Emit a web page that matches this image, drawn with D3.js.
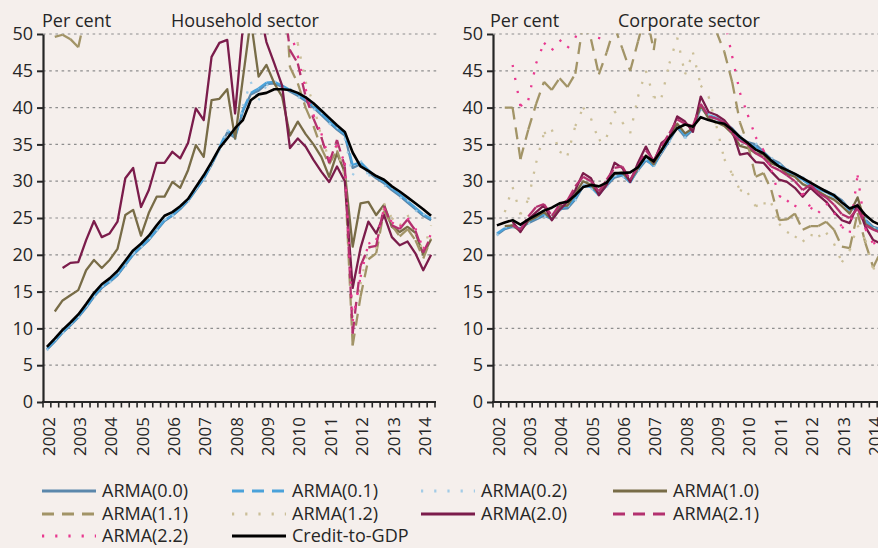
<!DOCTYPE html>
<html><head><meta charset="utf-8">
<script src="https://cdn.jsdelivr.net/npm/d3@7"></script>
<style>
html,body{margin:0;padding:0;background:#f5efec;overflow:hidden}
svg{display:block}
text{font-family:"Open Sans",Lato,sans-serif;fill:#262626}
</style></head><body>
<svg id="c" width="878" height="548"></svg>
<script>
// ---------- data ----------
const years = ["2002","2003","2004","2005","2006","2007","2008","2009","2010","2011","2012","2013","2014"];
const quarterNames = ["Q1","Q2","Q3","Q4"];
const nQuarters = 50;
const yTicks = [0,5,10,15,20,25,30,35,40,45,50];
const seriesNames = ["ARMA(0.0)","ARMA(0.1)","ARMA(0.2)","ARMA(1.0)","ARMA(1.1)","ARMA(1.2)","ARMA(2.0)","ARMA(2.1)","ARMA(2.2)","Credit-to-GDP"];

// Household sector
const hh_00 = [7.1,8.2,9.4,10.4,11.5,12.8,14.3,15.5,16.3,17.2,18.6,20.0,21.0,22.0,23.3,24.6,25.3,26.2,27.3,28.8,30.3,32.2,34.4,36.6,35.9,39.5,41.8,42.3,43.2,43.3,42.8,42.2,41.6,40.9,40.0,39.0,38.0,37.0,36.2,31.8,32.3,31.2,30.4,29.7,28.8,28.0,27.1,26.2,25.3,24.7];
const hh_01 = [7.2,8.3,9.5,10.5,11.6,12.9,14.4,15.6,16.4,17.3,18.7,20.1,21.1,22.1,23.4,24.7,25.4,26.3,27.4,28.9,30.4,32.3,34.6,36.9,36.1,39.7,42.0,42.6,43.4,43.5,43.0,42.4,41.8,41.1,40.2,39.2,38.2,37.2,36.4,32.2,32.6,31.5,30.6,29.9,29.0,28.2,27.3,26.4,25.5,24.9];
const hh_02 = [7.0,8.4,9.3,10.6,11.4,13.0,14.2,15.7,16.2,17.5,18.4,20.2,21.0,22.2,23.2,24.8,25.2,26.5,27.2,29.0,30.1,32.4,34.2,37.0,35.6,40.2,43.5,41.0,43.0,43.6,42.6,42.6,41.4,41.3,39.8,39.4,37.8,37.4,35.8,30.8,32.8,30.8,30.8,29.4,29.2,27.8,27.5,26.0,25.6,24.5];
const hh_10 = [null,12.3,13.8,14.5,15.2,17.9,19.3,18.2,19.3,20.8,25.4,26.1,22.6,25.7,27.9,27.9,29.9,29.1,31.5,34.9,33.3,41.0,41.2,42.5,35.8,44.0,52.0,44.2,45.8,43.3,41.5,36.2,38.1,36.4,35.0,33.3,30.6,33.8,31.2,21.1,27.0,27.2,25.4,26.8,23.8,23.1,23.8,23.0,20.0,22.1];
const hh_11 = [null,49.6,49.9,49.3,48.2,53,58,60,60,62,64,65,66,66,67,68,69,70,70,71,72,72,73,73,72,72,71,70,68,66,62,45.5,43.3,40.0,37.5,34.5,32.3,34.2,31.0,7.7,14.3,19.4,20.2,26.0,24.0,22.5,23.5,22.0,19.5,22.2];
const hh_12 = [null,58,62,63,62,65,68,70,71,72,74,75,75,76,77,78,78,79,80,80,81,81,82,82,81,80,79,77,74,70,64,56,48.7,43.5,40.5,36.0,33.0,34.8,30.5,11.5,16.0,21.0,20.8,27.0,25.0,24.0,25.4,23.0,20.5,24.0];
const hh_20 = [null,null,18.2,18.9,19.0,22.0,24.6,22.4,22.9,24.5,30.4,31.8,26.5,28.8,32.5,32.5,34.0,33.1,35.2,39.9,38.3,46.9,48.8,49.2,39.2,51.0,56.0,54.0,48.9,46.0,43.0,34.5,35.8,34.7,32.9,31.3,29.9,32.0,30.0,15.5,20.9,24.5,22.9,25.4,22.4,21.3,21.8,20.2,17.9,20.0];
const hh_21 = [null,null,60,62,64,66,68,70,72,73,75,76,77,78,79,80,81,82,83,84,85,86,86,86,85,84,82,80,76,68,56,47.8,46.0,41.5,38.5,36.0,32.5,35.6,32.0,9.3,18.5,21.0,21.2,26.6,24.0,23.5,24.8,23.3,20.3,22.5];
const hh_22 = [null,null,62,64,66,68,70,72,74,75,77,78,79,80,81,82,83,84,85,86,87,88,88,88,87,86,84,82,78,70,60,50.5,47.0,42.5,39.0,36.5,33.0,35.0,32.5,11.0,17.0,21.5,22.0,26.3,24.4,23.8,25.0,23.6,20.8,22.8];
const hh_credit = [7.5,8.6,9.8,10.8,11.9,13.3,14.8,16.0,16.8,17.8,19.2,20.6,21.5,22.6,24.0,25.3,25.8,26.6,27.6,29.2,30.8,32.6,34.5,35.8,37.2,38.3,41.0,41.8,42.0,42.5,42.5,42.4,42.0,41.4,40.6,39.6,38.6,37.6,36.7,33.9,32.0,31.4,30.7,30.2,29.3,28.6,27.8,27.0,26.2,25.3];

// Corporate sector
const cc_00 = [22.7,23.5,23.8,23.6,24.3,24.8,25.3,24.9,26.2,26.3,27.5,29.3,29.3,28.2,29.4,30.5,30.8,29.9,31.5,32.8,32.2,33.8,35.5,37.3,36.0,37.0,40.0,38.8,38.5,37.9,37.2,36.0,35.3,35.0,34.0,33.0,32.5,31.5,31.0,30.4,29.6,29.0,28.7,28.1,27.4,26.2,26.6,24.8,23.8,23.5];
const cc_01 = [22.9,23.6,24.0,23.4,24.5,25.0,25.5,24.8,26.4,26.5,27.7,29.5,29.2,28.1,29.6,30.7,30.9,29.8,31.7,33.0,32.0,34.0,35.7,37.5,36.2,37.2,40.3,39.0,38.6,38.0,37.0,35.8,35.0,34.7,33.8,32.8,32.3,31.3,30.8,30.2,29.4,28.9,28.5,27.9,27.2,26.0,26.5,24.6,23.6,23.3];
const cc_02 = [22.6,23.8,23.7,23.9,24.2,25.1,25.2,25.2,26.0,26.6,27.3,29.6,29.0,28.5,29.2,30.8,30.6,30.2,31.3,33.1,32.0,34.1,35.3,37.6,35.8,37.3,39.8,39.1,38.3,38.2,37.0,36.2,35.1,35.2,33.8,33.2,32.3,31.7,30.8,30.6,29.4,29.2,28.5,28.3,27.2,26.4,26.4,25.0,23.6,23.7];
const cc_10 = [null,23.9,24.0,23.2,24.6,25.1,25.8,24.8,26.6,26.7,28.3,30.0,29.5,28.3,29.8,31.0,31.2,30.0,31.8,33.5,32.3,34.3,36.0,37.8,36.5,37.2,40.3,38.5,38.0,37.5,36.5,34.8,34.5,33.8,33.6,32.4,32.0,31.0,30.6,29.6,29.1,28.6,28.0,27.5,26.6,25.6,27.8,24.2,23.5,23.0];
const cc_11 = [null,40.0,40.0,33.0,37.0,40.5,43.5,42.4,44.0,42.8,44.6,51.5,49.3,44.5,47.5,51.0,48.0,45.0,49.0,53.0,47.8,55.0,58.0,60.0,60.0,59.0,57.0,54.0,50.3,47.6,43.5,38.0,35.0,30.6,31.1,28.8,24.7,24.8,25.6,23.4,23.9,23.9,24.5,23.4,21.1,20.9,25.7,21.6,18.3,20.5];
const cc_12 = [null,25.8,29.2,25.5,27.5,32.5,36.5,37.0,34.0,33.5,37.5,40.0,38.5,35.5,36.0,39.5,38.0,36.5,41.5,45.0,41.4,41.4,46.0,49.5,44.5,47.5,43.0,41.5,37.5,33.0,31.0,28.8,28.4,26.6,27.0,27.0,24.2,23.1,22.5,21.8,22.7,22.5,23.0,21.5,19.0,20.6,24.0,22.0,18.0,20.0];
const cc_20 = [null,null,24.5,23.1,24.8,25.8,26.7,24.7,26.1,27.2,28.8,31.1,30.4,28.1,29.5,32.5,31.8,29.9,32.5,34.7,32.6,35.2,36.0,38.8,38.1,36.7,41.5,39.4,39.0,38.3,37.0,33.6,33.8,32.6,32.5,31.3,30.2,29.9,29.1,27.9,29.1,28.1,27.2,25.8,24.7,24.3,26.8,23.8,22.0,21.5];
const cc_21 = [null,null,24.0,23.4,25.2,26.5,26.9,25.3,26.8,27.4,29.3,30.6,30.0,28.6,30.2,31.8,32.0,30.2,32.0,34.2,32.8,34.8,36.5,38.4,37.8,37.5,40.5,38.8,38.5,38.0,36.5,35.5,35.0,33.8,33.2,32.0,31.5,30.8,30.0,28.8,29.5,28.4,27.8,26.8,25.5,25.0,26.3,24.0,23.4,23.0];
const cc_22 = [null,null,45.8,40.2,41.0,46.0,48.8,47.8,49.2,48.1,49.5,52.0,54.0,49.3,53.0,56.0,58.0,59.0,60.0,61.0,62.0,62.0,63.0,63.0,62.0,61.0,59.0,57.0,55.0,52.0,47.0,42.0,39.0,36.0,34.2,31.5,28.0,27.4,26.5,28.4,26.4,25.7,27.0,25.7,23.8,23.0,30.8,23.5,21.5,22.0];
const cc_credit = [24.0,24.4,24.7,24.1,24.8,25.4,26.0,26.4,27.0,27.2,28.1,29.2,29.5,29.3,29.8,31.1,31.1,31.2,31.9,33.4,32.7,34.2,35.9,37.2,37.7,37.4,38.7,38.3,38.0,37.8,37.0,36.0,35.2,34.3,33.8,32.8,32.0,31.5,31.0,30.4,29.8,29.2,28.6,28.1,27.1,26.3,26.7,25.4,24.5,24.0];

// ---------- styles ----------
const styles = [
  {color:"#5b87ab", dash:"solid"},
  {color:"#4aa2da", dash:"dash"},
  {color:"#a2cbe6", dash:"dot"},
  {color:"#786c47", dash:"solid"},
  {color:"#a29467", dash:"dash"},
  {color:"#cbbf98", dash:"dot"},
  {color:"#7b1c4b", dash:"solid"},
  {color:"#b3306e", dash:"dash"},
  {color:"#e8388f", dash:"dot"},
  {color:"#000000", dash:"solid", width:2.6}
];
const dashArr = {dash:"12,8", dot:"2.2,11"};

const categories = years.flatMap(y => quarterNames.map(q => y + q)).slice(0, nQuarters);

const svg = d3.select("#c");
svg.append("rect").attr("width",878).attr("height",548).attr("fill","#f5efec");

const plotW = 392;
const y = d3.scaleLinear().domain([0,50]).range([402,34]);

function panel(id, x0, perCentX, title, titleX, data) {
  const x = d3.scaleBand().domain(categories).range([x0, x0 + plotW]).padding(0);
  const bw = x.bandwidth();
  const cx = i => x(categories[i]) + bw / 2;
  const g = svg.append("g");

  // grid
  g.selectAll("line.grid").data(yTicks.filter(t => t > 0)).join("line")
    .attr("x1", x0).attr("x2", x0 + plotW + 2)
    .attr("y1", d => y(d)).attr("y2", d => y(d))
    .attr("stroke", "#8e8e8e").attr("stroke-width", 1.2).attr("stroke-dasharray", "2.6,3.6");

  // clip
  const clipId = "clip" + id;
  svg.append("clipPath").attr("id", clipId).append("rect")
    .attr("x", x0 + 1).attr("y", y(50) - 0.5).attr("width", plotW + 2).attr("height", y(0) - y(50) + 1);

  const lines = g.append("g").attr("clip-path", `url(#${clipId})`);
  data.forEach((vals, s) => {
    const st = styles[s];
    const w = st.width || 2.3;
    if (st.dash === "solid") {
      const line = d3.line().defined(v => v != null).x((v, i) => cx(i)).y(v => y(v));
      lines.append("path").attr("d", line(vals)).attr("fill", "none")
        .attr("stroke", st.color).attr("stroke-width", w).attr("stroke-linejoin", "round");
    } else {
      // segment-by-segment so the dash pattern restarts at each point
      const segs = [];
      for (let i = 0; i < vals.length - 1; i++) {
        if (vals[i] != null && vals[i + 1] != null) segs.push([i, i + 1]);
      }
      const segLine = d3.line().x(i => cx(i)).y(i => y(vals[i]));
      lines.selectAll(null).data(segs).join("path")
        .attr("d", d => segLine(d)).attr("fill", "none")
        .attr("stroke", st.color).attr("stroke-width", w)
        .attr("stroke-dasharray", dashArr[st.dash]);
    }
  });

  // y axis
  const yAxis = d3.axisLeft(y).tickValues(yTicks).tickSize(6).tickSizeOuter(0).tickPadding(4);
  const ya = g.append("g").attr("transform", `translate(${x0},0)`).call(yAxis);
  ya.select(".domain").attr("stroke", "#262626").attr("stroke-width", 2.2);
  ya.selectAll(".tick line").attr("stroke", "#262626").attr("stroke-width", 2);
  ya.selectAll(".tick text").attr("font-size", 18).attr("fill", "#262626")
    .style("font-family", "'Open Sans', Lato, sans-serif");

  // x axis line and category ticks
  g.append("line").attr("x1", x0 - 1).attr("x2", x0 + plotW + 1).attr("y1", y(0)).attr("y2", y(0))
    .attr("stroke", "#262626").attr("stroke-width", 2.2);
  const bounds = categories.map(c => x(c)).concat([x0 + plotW]);
  g.selectAll("line.xt").data(bounds).join("line")
    .attr("x1", d => d).attr("x2", d => d).attr("y1", y(0)).attr("y2", y(0) + 5.5)
    .attr("stroke", "#262626").attr("stroke-width", 1.6);

  // year labels
  g.selectAll("text.yr").data(years).join("text")
    .attr("transform", d => `translate(${x(d + "Q1") + bw / 2 + 1.5},${y(0) + 15}) rotate(-90)`)
    .attr("text-anchor", "end").attr("dy", "0.36em").attr("font-size", 17).text(d => d);

  // titles
  g.append("text").attr("x", perCentX).attr("y", 27).attr("font-size", 18).text("Per cent");
  g.append("text").attr("x", titleX).attr("y", 27).attr("font-size", 18).text(title);
}

panel("h", 43, 42, "Household sector", 171,
  [hh_00, hh_01, hh_02, hh_10, hh_11, hh_12, hh_20, hh_21, hh_22, hh_credit]);
panel("c", 493, 490, "Corporate sector", 618,
  [cc_00, cc_01, cc_02, cc_10, cc_11, cc_12, cc_20, cc_21, cc_22, cc_credit]);

// legend
const legCols = [42, 232, 421, 613];
const legRows = [491, 514, 536];
const lg = svg.append("g");
seriesNames.forEach((name, i) => {
  const col = i % 4, row = Math.floor(i / 4);
  const lx = legCols[col], ly = legRows[row];
  const st = styles[i];
  const l = lg.append("line").attr("x1", lx).attr("x2", lx + 54).attr("y1", ly).attr("y2", ly)
    .attr("stroke", st.color).attr("stroke-width", st.width ? 3 : 2.8);
  if (st.dash !== "solid") l.attr("stroke-dasharray", dashArr[st.dash]);
  lg.append("text").attr("x", lx + 60).attr("y", ly).attr("dy", "0.36em")
    .attr("font-size", 18).text(name);
});
</script>
</body></html>
